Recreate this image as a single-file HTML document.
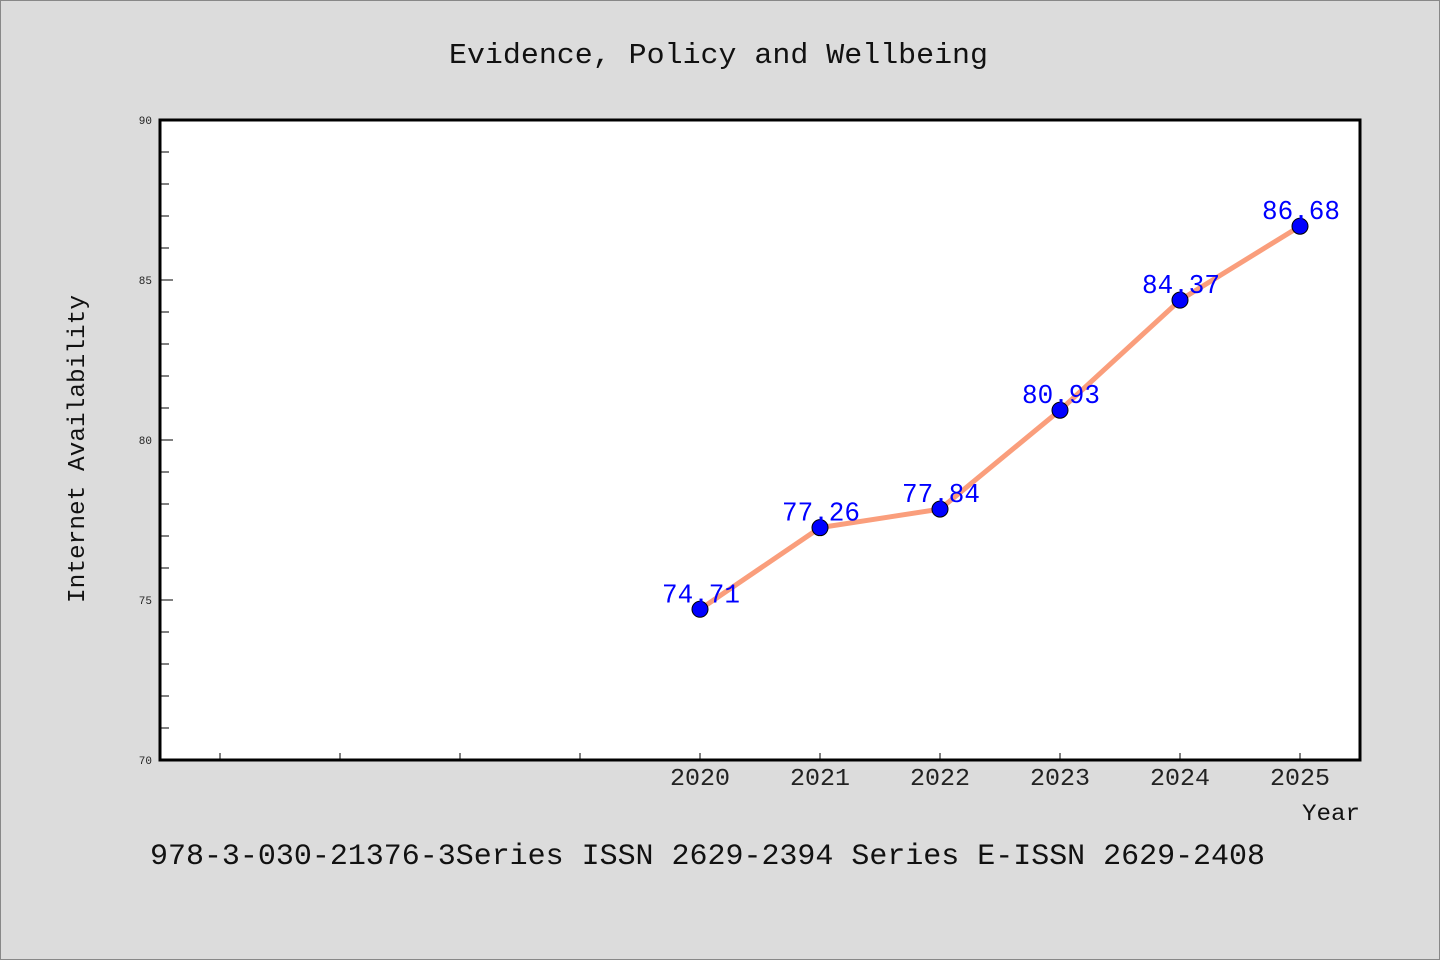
<!DOCTYPE html>
<html><head><meta charset="utf-8"><style>
body{margin:0;background:#dcdcdc;}
svg{display:block;font-family:"WenQuanYi Zen Hei Mono","WenQuanYi Zen Hei","Liberation Mono",monospace;}
</style></head><body>
<svg width="1440" height="960" xmlns="http://www.w3.org/2000/svg">
<rect x="0.5" y="0.5" width="1439" height="959" fill="#dcdcdc" stroke="#888"/>
<text x="449" y="63" font-size="29" textLength="539" lengthAdjust="spacingAndGlyphs" fill="#111">Evidence, Policy and Wellbeing</text>
<rect x="160" y="120" width="1200" height="640" fill="#fff"/>
<g id="axes"></g>
<g id="marks"></g>
<rect x="160" y="120" width="1200" height="640" fill="none" stroke="#000" stroke-width="3"/>
<text x="0" y="0" font-size="24" textLength="308" lengthAdjust="spacingAndGlyphs" fill="#111" transform="translate(84 603) rotate(-90)">Internet Availability</text>
<text x="1302" y="820" font-size="23" textLength="58" lengthAdjust="spacingAndGlyphs" fill="#111">Year</text>
<text x="150" y="864" font-size="30" textLength="1115" lengthAdjust="spacingAndGlyphs" fill="#111">978-3-030-21376-3Series ISSN 2629-2394 Series E-ISSN 2629-2408</text>
</svg>
<script>
const years=[2020,2021,2022,2023,2024,2025];
const values=[74.71,77.26,77.84,80.93,84.37,86.68];
const labels=["74.71","77.26","77.84","80.93","84.37","86.68"];
const yTicks=[70,75,80,85,90];
const xTickYears=[2016,2017,2018,2019,2020,2021,2022,2023,2024,2025];
const NS="http://www.w3.org/2000/svg";
const xs=v=>160+(v-2015.5)*120;
const ys=v=>760-(v-70)*32;
function mk(t,a,p){const e=document.createElementNS(NS,t);for(const k in a)e.setAttribute(k,a[k]);p.appendChild(e);return e;}
const ax=document.getElementById('axes'),mg=document.getElementById('marks');
for(let v=70;v<=90;v+=1){
 const major=yTicks.includes(v);
 const l=mk('line',{x1:160,x2:major?173:169,y1:ys(v),y2:ys(v),stroke:'#000','stroke-width':1},ax);
 
 
 if(major){const t=mk('text',{x:152,y:ys(v)+4,'font-size':11,'text-anchor':'end',fill:'#222'},ax);t.textContent=v;
 
 }
}
xTickYears.forEach(y=>{
 const l=mk('line',{x1:xs(y),x2:xs(y),y1:753,y2:760,stroke:'#000','stroke-width':1},ax);
 
 
 if(years.includes(y)){const t=mk('text',{x:xs(y)-30,y:785,'font-size':24,textLength:60,lengthAdjust:'spacingAndGlyphs',fill:'#222'},ax);t.textContent=y;
 
 }
});
const pl=mk('polyline',{points:years.map((y,i)=>xs(y)+','+ys(values[i])).join(' '),fill:'none',stroke:'#fa9e7c','stroke-width':5},mg);


years.forEach((y,i)=>{
 const c=mk('circle',{cx:xs(y),cy:ys(values[i]),r:8,fill:'#0000ff',stroke:'#000','stroke-width':1},mg);
 
 
 const t=mk('text',{x:xs(y)-38,y:ys(values[i])-7,'font-size':27,textLength:78,lengthAdjust:'spacingAndGlyphs',fill:'#0000ff'},mg);
 t.textContent=labels[i];
 
 
});
</script>
</body></html>
